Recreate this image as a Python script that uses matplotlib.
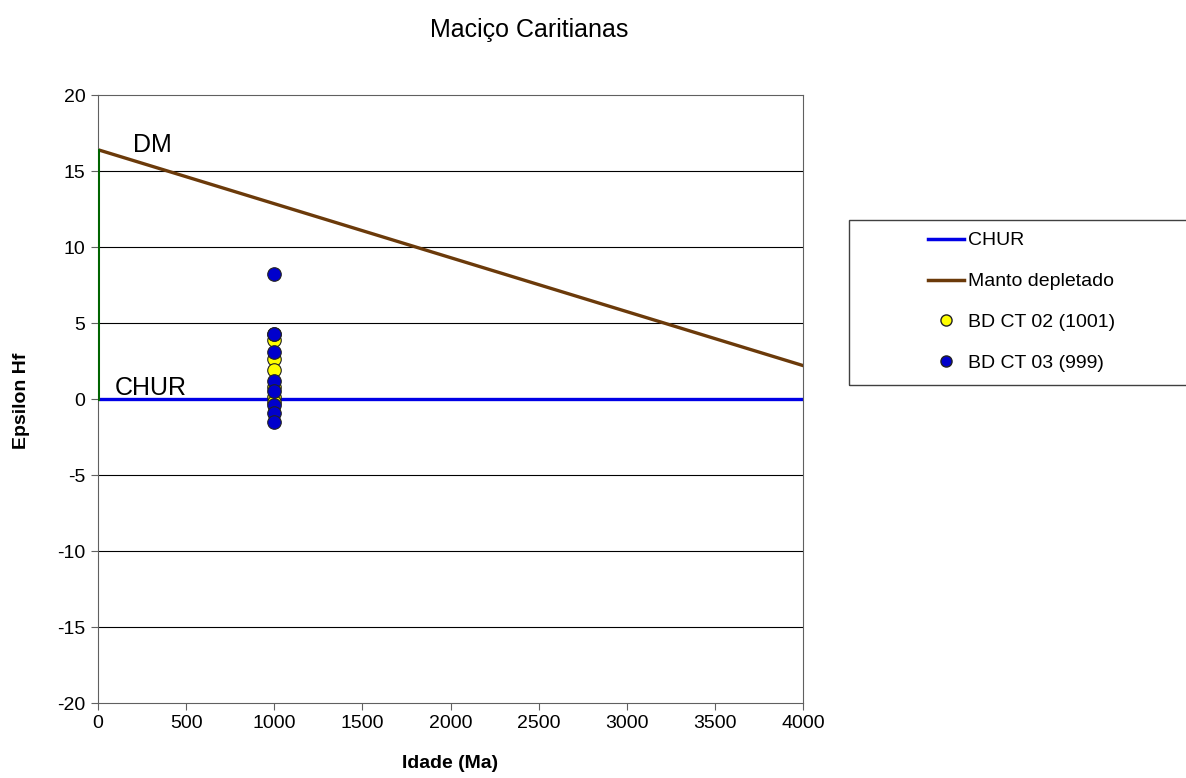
import matplotlib.pyplot as plt
from matplotlib.lines import Line2D
from matplotlib.patches import Rectangle

plt.rcParams['font.family'] = ['Liberation Sans', 'DejaVu Sans']
plt.rcParams['axes.unicode_minus'] = False

# reference curves
chur_x = [0, 4000]
chur_y = [0, 0]
dm_x = [0, 4000]
dm_y = [16.4, 2.2]

# samples (age in Ma, epsilon Hf)
ct02_age = [1001, 1001, 1001, 1001, 1001, 1001]
ct02_eps = [3.9, 2.6, 1.9, 0.8, 0.15, -0.2]
ct03_age = [999, 999, 999, 999, 999, 999, 999, 999, 999]
ct03_eps = [8.2, 4.3, 3.1, 1.2, 0.5, -0.4, -0.9, -1.5, 4.3]

W, H = 1186, 778
fig = plt.figure(figsize=(W / 100, H / 100), dpi=100)
ax = fig.add_axes([98 / W, 1 - 703 / H, 705 / W, 608 / H])

ax.set_xlim(0, 4000)
ax.set_ylim(-20, 20)
ax.set_xticks(range(0, 4001, 500))
ax.set_yticks(range(-20, 21, 5))
for y in range(-15, 20, 5):
    ax.axhline(y, color='black', lw=0.8, zorder=1)

ax.plot([0, 0], [0, dm_y[0]], color='#006400', lw=2.2, zorder=3)
ax.plot(chur_x, chur_y, color='#0000e6', lw=2.4, zorder=2)
ax.plot(dm_x, dm_y, color='#6b3a0a', lw=2.4, zorder=2)

ax.scatter(ct02_age, ct02_eps, s=95, color='#ffff00', edgecolor='#222222', lw=0.8, zorder=4)
ax.scatter(ct03_age, ct03_eps, s=95, color='#0000cc', edgecolor='#222222', lw=0.8, zorder=5)

ax.text(199, 16.25, 'DM', fontsize=18, va='baseline')
ax.text(96, 0.26, 'CHUR', fontsize=18, va='baseline')

for s in ax.spines.values():
    s.set_color('#606060')
ax.tick_params(labelsize=14, direction='out', length=5, color='#606060', pad=4)

fig.text(450 / W, 1 - 763 / H, 'Idade (Ma)', fontsize=14, fontweight='bold', ha='center', va='center')
fig.text(21 / W, 1 - 401 / H, 'Epsilon Hf', fontsize=14, fontweight='bold', rotation=90,
         ha='center', va='center')
fig.text(529 / W, 1 - 30 / H, 'Maciço Caritianas', fontsize=18, ha='center', va='center')

# legend box, open on the right edge
fig.patches.append(Rectangle((849 / W, 1 - 385 / H), 400 / W, 165 / H, transform=fig.transFigure,
                             fill=False, edgecolor='#404040', lw=1.0))
handles = [
    Line2D([], [], color='#0000e6', lw=2.5),
    Line2D([], [], color='#6b3a0a', lw=2.5),
    Line2D([], [], ls='', marker='o', ms=8, mfc='#ffff00', mec='#222222'),
    Line2D([], [], ls='', marker='o', ms=8, mfc='#0000cc', mec='#222222'),
]
labels = ['CHUR', 'Manto depletado', 'BD CT 02 (1001)', 'BD CT 03 (999)']
fig.legend(handles, labels, loc='center left', bbox_to_anchor=(928 / W, 1 - 302 / H),
           fontsize=14, frameon=False, handlelength=1.85, handletextpad=0.2,
           labelspacing=1.2, borderpad=0, borderaxespad=0)

fig.savefig('out.png', dpi=100)
